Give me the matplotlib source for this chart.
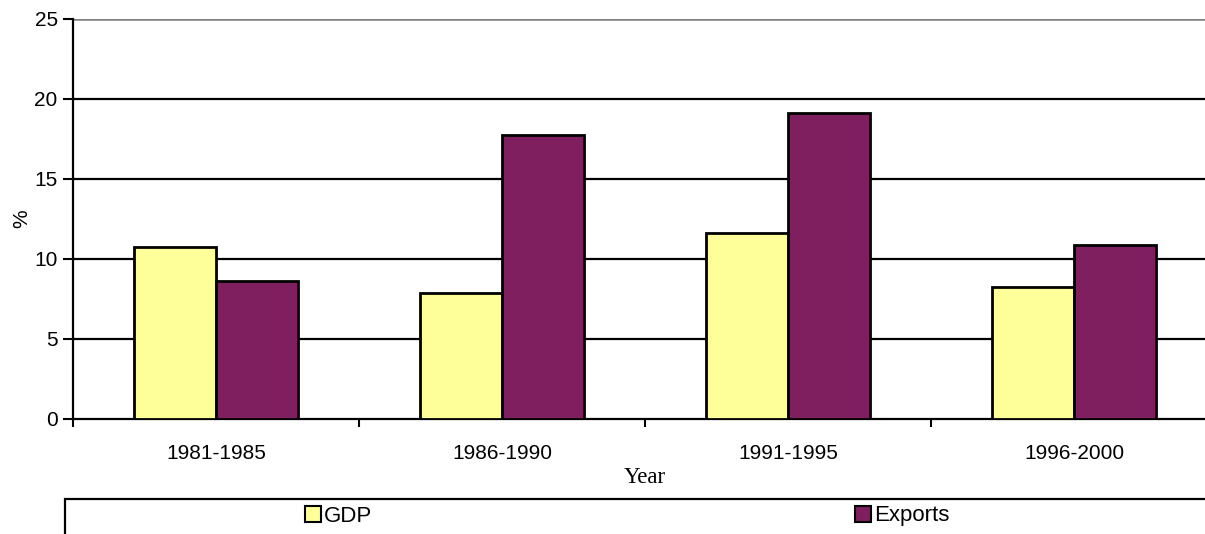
import matplotlib
matplotlib.use("Agg")
import matplotlib.pyplot as plt
import numpy as np
from matplotlib.patches import Rectangle, Patch

categories = ["1981-1985", "1986-1990", "1991-1995", "1996-2000"]
gdp = [10.77, 7.85, 11.65, 8.25]
exports = [8.63, 17.75, 19.1, 10.88]
yticks = [0, 5, 10, 15, 20, 25]

W, H = 1205, 534
fig = plt.figure(figsize=(W / 100, H / 100), dpi=100)
ax = fig.add_axes([73 / W, (H - 419) / H, 1144 / W, 400 / H])

sans = "Liberation Sans"
serif = "Liberation Serif"
fs = 15
c_gdp = "#FFFF99"
c_exp = "#7F1F5F"

x = np.arange(len(categories))
w = 0.287
ax.bar(x - w / 2, gdp, w, color=c_gdp, edgecolor="black", linewidth=2.0, zorder=3)
ax.bar(x + w / 2, exports, w, color=c_exp, edgecolor="black", linewidth=2.0, zorder=3)

ax.set_xlim(-0.5, len(categories) - 0.5)
ax.set_ylim(0, 25)
ax.set_yticks(yticks)
ax.set_yticklabels([str(v) for v in yticks], fontfamily=sans, fontsize=fs)
ax.set_xticks(x)
ax.set_xticklabels(categories, fontfamily=sans, fontsize=fs)
ax.set_xticks(np.arange(-0.5, len(categories), 1.0), minor=True)
ax.tick_params(axis="x", which="major", length=0, pad=18)
ax.tick_params(axis="x", which="minor", length=6, width=1.5, direction="out")
ax.tick_params(axis="y", length=7, width=1.5, direction="out", pad=4)

for v in yticks[1:-1]:
    ax.axhline(v, color="black", linewidth=1.6, zorder=1)
ax.axhline(25, color="#808080", linewidth=1.8, zorder=1)

for s in ["top", "right"]:
    ax.spines[s].set_visible(False)
ax.spines["left"].set_linewidth(1.6)
ax.spines["bottom"].set_linewidth(1.6)

ax.set_ylabel("%", fontfamily=sans, fontsize=fs, labelpad=2)
ax.set_xlabel("Year", fontfamily=serif, fontsize=fs + 1.5, labelpad=3)

# legend box (extends beyond the figure edges)
fig.patches.append(Rectangle((65 / W, -0.2), 1.2, (H - 499) / H + 0.2,
                             transform=fig.transFigure, fill=False,
                             edgecolor="black", linewidth=1.6))

for label, col, xpos in [("GDP", c_gdp, 305), ("Exports", c_exp, 855)]:
    fig.legend(handles=[Patch(facecolor=col, edgecolor="black", linewidth=1.5)],
               labels=[label], loc="center left",
               bbox_to_anchor=(xpos / W, (H - 516) / H),
               frameon=False, borderpad=0, borderaxespad=0,
               handlelength=0.7, handleheight=0.7, handletextpad=0.15,
               prop={"family": sans, "size": fs + 1})

fig.savefig("out.png", dpi=100)
